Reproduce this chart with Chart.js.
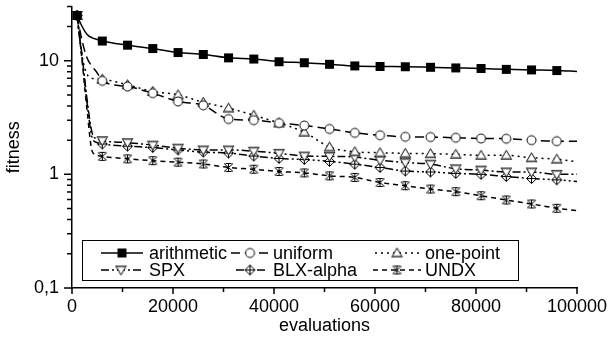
<!DOCTYPE html>
<html><head><meta charset="utf-8">
<script src="https://cdn.jsdelivr.net/npm/chart.js@4.4.0/dist/chart.umd.min.js"></script>
<style>html,body{margin:0;padding:0;background:#fff}#wrap{width:608px;height:343px;position:relative}</style>
</head><body><div id="wrap"><canvas id="c" width="608" height="343"></canvas></div>
<script>
// ---- data ----
const evaluations = [1000,2000,3000,4000,5000,6000,11000,16000,21000,26000,31000,36000,41000,46000,51000,56000,61000,66000,71000,76000,81000,86000,91000,96000,100000];
const arithmetic = [25,20,17,15.9,15.4,14.9,13.7,12.8,11.8,11.35,10.6,10.35,9.8,9.6,9.3,9.0,8.9,8.85,8.75,8.65,8.55,8.4,8.3,8.2,8.05];
const uniform    = [25,15,10.5,8.9,7.8,6.65,5.93,5.18,4.38,4.05,3.07,3.0,2.83,2.69,2.51,2.32,2.21,2.14,2.13,2.10,2.07,2.06,2.0,1.96,1.96];
const onePoint   = [25,11,7.6,7.0,6.9,6.87,6.14,5.36,5.01,4.3,3.83,3.31,2.83,2.35,1.74,1.58,1.55,1.53,1.52,1.50,1.47,1.47,1.40,1.36,1.29];
const spx        = [25,11,4.5,2.3,2.05,1.98,1.90,1.81,1.70,1.64,1.64,1.60,1.53,1.45,1.44,1.42,1.33,1.27,1.23,1.12,1.09,1.05,1.05,1.0,1.0];
const blxAlpha   = [25,10.5,4.2,2.1,1.9,1.85,1.77,1.72,1.64,1.57,1.54,1.45,1.38,1.35,1.30,1.23,1.15,1.07,1.05,1.02,1.0,0.957,0.919,0.895,0.865];
const undx       = [25,10,3.6,1.6,1.47,1.44,1.37,1.32,1.28,1.235,1.15,1.11,1.06,1.03,0.97,0.94,0.848,0.794,0.743,0.704,0.649,0.595,0.549,0.503,0.48];
const seriesNames = ['arithmetic','uniform','one-point','SPX','BLX-alpha','UNDX'];
const xTickValues = [0,10000,20000,30000,40000,50000,60000,70000,80000,90000,100000];
const xTickLabels = ['0','20000','40000','60000','80000','100000'];
const yTickValues = [0.1,0.2,0.3,0.4,0.5,0.6,0.7,0.8,0.9,1,2,3,4,5,6,7,8,9,10,20,30];
const yLabelValues = [0.1,1,10];
const yTickLabels = ['0,1','1','10'];

// ---- marker images ----
function makeMarker(kind){
  const s=13, m=6.5, c=document.createElement('canvas'); c.width=s; c.height=s;
  const g=c.getContext('2d'); g.lineWidth=1; g.strokeStyle='#000'; g.fillStyle='#fff';
  g.beginPath();
  if(kind==='square'){ g.fillStyle='#000'; g.fillRect(m-4.5,m-4.5,9,9); }
  else if(kind==='circle'){ g.arc(m,m,4.5,0,Math.PI*2); g.fill(); g.stroke(); }
  else if(kind==='triUp'){ g.moveTo(m,m-5); g.lineTo(m+5.2,m+4); g.lineTo(m-5.2,m+4); g.closePath(); g.fill(); g.stroke();
    g.strokeStyle='#888'; g.lineWidth=1.6; g.beginPath(); g.moveTo(m-4.2,m+3.2); g.lineTo(m+4.2,m+3.2); g.stroke(); }
  else if(kind==='triDown'){ g.moveTo(m,m+5); g.lineTo(m+5.2,m-4); g.lineTo(m-5.2,m-4); g.closePath(); g.fill(); g.stroke();
    g.strokeStyle='#888'; g.lineWidth=1.6; g.beginPath(); g.moveTo(m-4.2,m-3.2); g.lineTo(m+4.2,m-3.2); g.stroke(); }
  else if(kind==='diamondCross'){ g.moveTo(m,m-5); g.lineTo(m+5,m); g.lineTo(m,m+5); g.lineTo(m-5,m); g.closePath(); g.fill(); g.stroke();
    g.beginPath(); g.moveTo(m-5,m); g.lineTo(m+5,m); g.moveTo(m,m-5); g.lineTo(m,m+5); g.stroke(); }
  else if(kind==='asterisk'){ g.moveTo(m-4.5,m-4); g.lineTo(m+4.5,m+4); g.moveTo(m+4.5,m-4); g.lineTo(m-4.5,m+4);
    g.moveTo(m,m-4.5); g.lineTo(m,m+4.5); g.moveTo(m-3,m-4); g.lineTo(m+3,m-4); g.moveTo(m-3,m+4); g.lineTo(m+3,m+4); g.stroke(); }
  return c;
}
const markers = [makeMarker('square'),makeMarker('circle'),makeMarker('triUp'),makeMarker('triDown'),makeMarker('diamondCross'),makeMarker('asterisk')];
const dashes = [[],[9,5],[2,4],[8,3,2,3],[8,3,2,3,2,3],[5,4]];
const seriesValues = [arithmetic,uniform,onePoint,spx,blxAlpha,undx];

function isMarker(i){ return i===0 || (i>=5 && i<evaluations.length-1); }

const datasets = seriesNames.map((name,k)=>({
  label:name,
  data: evaluations.map((e,i)=>({x:e,y:seriesValues[k][i]})),
  borderColor:'#000', backgroundColor:'#fff', borderWidth:1.5,
  borderDash:dashes[k],
  pointStyle:markers[k],
  pointRadius:(ctx)=>isMarker(ctx.dataIndex)?5:0,
  pointHoverRadius:0,
  cubicInterpolationMode:'monotone',
  fill:false
}));

const FONT = {family:"'Liberation Sans', Arial, sans-serif", size:18};

const tickPlugin = {
  id:'tickMarks',
  afterDraw(chart){
    const ctx=chart.ctx, xs=chart.scales.x, ys=chart.scales.y, a=chart.chartArea;
    ctx.save(); ctx.strokeStyle='#000'; ctx.lineWidth=1.5; ctx.setLineDash([]);
    ctx.beginPath();
    yTickValues.forEach(v=>{
      const p=ys.getPixelForValue(v); const len=yLabelValues.includes(v)?8:5;
      ctx.moveTo(a.left-len,p); ctx.lineTo(a.left,p);
    });
    xTickValues.forEach(v=>{
      const p=xs.getPixelForValue(v); const len=(v%20000===0)?6:4;
      ctx.moveTo(p,a.bottom); ctx.lineTo(p,a.bottom+len);
    });
    ctx.stroke();
    // legend
    const items=[
      {k:0,x0:101,x1:143,mx:122,tx:149,y:253},
      {k:1,x0:231,x1:269,mx:250,tx:273,y:253},
      {k:2,x0:375,x1:421,mx:397,tx:425,y:253},
      {k:3,x0:101,x1:141,mx:121,tx:149,y:270},
      {k:4,x0:236,x1:266,mx:250,tx:273,y:270},
      {k:5,x0:373,x1:421,mx:397,tx:425,y:270}
    ];
    ctx.lineWidth=1; ctx.strokeRect(82.5,240.5,436,40);
    ctx.font=`${FONT.size}px ${FONT.family}`; ctx.fillStyle='#000'; ctx.textBaseline='middle'; ctx.textAlign='left';
    items.forEach(it=>{
      const ds=chart.data.datasets[it.k];
      ctx.lineWidth=1.5; ctx.setLineDash(ds.borderDash); ctx.beginPath(); ctx.moveTo(it.x0,it.y); ctx.lineTo(it.x1,it.y); ctx.stroke();
      ctx.setLineDash([]);
      const img=ds.pointStyle; ctx.drawImage(img,it.mx-img.width/2,it.y-img.height/2);
      ctx.fillText(ds.label,it.tx,it.y+1);
    });
    ctx.restore();
  }
};

new Chart(document.getElementById('c'),{
  type:'line',
  data:{datasets},
  options:{
    responsive:false, animation:false, devicePixelRatio:1,
    layout:{padding:{top:4,right:31,left:0,bottom:0}},
    plugins:{legend:{display:false},tooltip:{enabled:false}},
    scales:{
      x:{type:'linear',min:0,max:100000,
        grid:{display:false,drawTicks:false},
        border:{display:true,color:'#000',width:1.5},
        ticks:{stepSize:10000,autoSkip:false,maxRotation:0,padding:8,color:'#000',font:FONT,
          callback:(v)=>{return (v%20000===0)?xTickLabels[v/20000]:'';}},
        title:{display:true,text:'evaluations',color:'#000',font:FONT,padding:{top:0,bottom:6}},
        afterFit:(s)=>{s.height=55; s.paddingLeft=0; s.paddingRight=0;}
      },
      y:{type:'logarithmic',min:0.1,max:30,
        grid:{display:false,drawTicks:false},
        border:{display:true,color:'#000',width:1.5},
        afterBuildTicks:(s)=>{s.ticks=yTickValues.map(v=>({value:v}));},
        ticks:{autoSkip:false,padding:13,color:'#000',font:FONT,
          callback:(v)=>{const i=yLabelValues.indexOf(v); return i>=0?yTickLabels[i]:'';}},
        title:{display:true,text:'fitness',color:'#000',font:FONT,padding:{top:3,bottom:0}},
        afterFit:(s)=>{s.width=72; s.paddingTop=0; s.paddingBottom=0;}
      }
    }
  },
  plugins:[tickPlugin]
});
</script></body></html>
